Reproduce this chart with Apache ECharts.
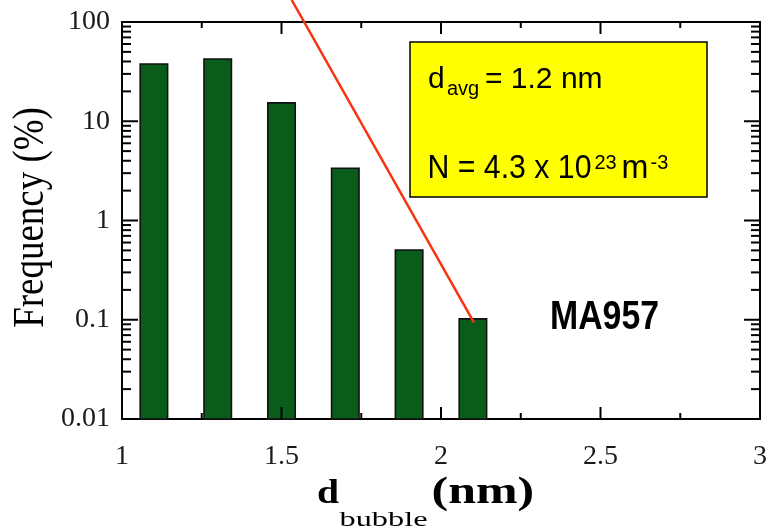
<!DOCTYPE html>
<html><head><meta charset="utf-8">
<script src="https://cdn.jsdelivr.net/npm/echarts@6/dist/echarts.min.js"></script>
<style>html,body{margin:0;padding:0;background:#fff}#c{width:770px;height:531px}</style>
</head><body><div id="c"></div>
<script>
// ---- data ----
const bubbleDiameters = [1.1, 1.3, 1.5, 1.7, 1.9, 2.1];      // nm (bar centres)
const frequencyPct    = [37.8, 42.4, 15.3, 3.36, 0.505, 0.102]; // %
const xTickLabels = ['1', '1.5', '2', '2.5', '3'];
const yTickLabels = ['0.01', '0.1', '1', '10', '100'];
const xMajorTicks = [1, 1.5, 2, 2.5, 3];
const xMinorTicks = [1.25, 1.75, 2.25, 2.75];
const yMajorTicks = [0.01, 0.1, 1, 10, 100];
const yDecades = [0.01, 0.1, 1, 10];
const yMinorMultipliers = [2, 3, 4, 5, 6, 7, 8, 9];

const X_MIN = 1, X_MAX = 3, Y_MIN = 0.01, Y_MAX = 100;
const BAR_W = 0.086; // bar width in nm
const SERIF = '"Liberation Serif", "Times New Roman", serif';
const SANS = '"Liberation Sans", Arial, sans-serif';

const yMinorTicks = [];
yDecades.forEach(d => yMinorMultipliers.forEach(m => yMinorTicks.push(+(d * m).toPrecision(3))));

const chart = echarts.init(document.getElementById('c'));

function ls() { return {color: '#000', width: 2}; }
function xAxisDef(pos, showLabel) {
  return {
    type: 'value', position: pos, min: X_MIN, max: X_MAX, interval: 0.5,
    axisLine: {show: true, lineStyle: ls()},
    axisTick: {show: false}, minorTick: {show: false},
    splitLine: {show: false},
    axisLabel: showLabel ? {
      show: true, margin: 24, color: '#1a1a1a', fontFamily: SERIF, fontSize: 28,
      formatter: v => xTickLabels[Math.round((v - 1) / 0.5)]
    } : {show: false}
  };
}
function yAxisDef(pos, showLabel) {
  return {
    type: 'log', position: pos, min: Y_MIN, max: Y_MAX,
    axisLine: {show: true, lineStyle: ls()},
    axisTick: {show: false}, minorTick: {show: false},
    splitLine: {show: false},
    axisLabel: showLabel ? {
      show: true, margin: 12, color: '#1a1a1a', fontFamily: SERIF, fontSize: 28,
      formatter: v => yTickLabels[Math.round(Math.log10(v)) + 2]
    } : {show: false}
  };
}

function txt(text, x, y, size, opts) {
  opts = opts || {};
  return {
    type: 'text', x, y, z: 100,
    scaleX: opts.sx || 1, scaleY: opts.sy || 1, rotation: opts.rot || 0,
    style: {
      text, x: 0, y: 0,
      fontSize: size, fontFamily: opts.family || SANS, fontWeight: opts.weight || 'normal',
      fill: opts.color || '#000',
      textAlign: opts.align || 'left', textVerticalAlign: 'middle', verticalAlign: 'middle'
    }
  };
}

const tickStyle = {stroke: '#000', lineWidth: 2};
// inward tick marks on bottom + top frame (value, length px)
const xTickData = xMajorTicks.map(v => [v, 12]).concat(xMinorTicks.map(v => [v, 6]));
// inward tick marks on left + right frame (length px, value)
const yTickData = yMajorTicks.map(v => [16, v]).concat(yMinorTicks.map(v => [9, v]));

chart.setOption({
  animation: false,
  grid: {left: 122, right: 9, top: 22, bottom: 112},
  xAxis: [xAxisDef('bottom', true), xAxisDef('top', false)],
  yAxis: [yAxisDef('left', true), yAxisDef('right', false)],
  series: [{
    type: 'custom', name: 'frequency',
    xAxisIndex: 0, yAxisIndex: 0, z: 2,
    data: bubbleDiameters.map((d, i) => [d, frequencyPct[i]]),
    renderItem: function (params, api) {
      const x = api.value(0), v = api.value(1);
      const top = api.coord([x, v]);
      const base = api.coord([x, Y_MIN]);
      const w = api.size([BAR_W, 0])[0];
      return {
        type: 'rect',
        shape: {x: top[0] - w / 2, y: top[1], width: w, height: base[1] - top[1]},
        style: {fill: '#0a5c1b', stroke: '#111', lineWidth: 1.6}
      };
    }
  }, {
    type: 'custom', name: 'xTicks', silent: true,
    xAxisIndex: 0, yAxisIndex: 0, z: 3,
    data: xTickData,
    renderItem: function (params, api) {
      const x = api.value(0), len = api.value(1);
      const b = api.coord([x, Y_MIN]);
      const t = api.coord([x, Y_MAX]);
      return {
        type: 'group',
        children: [
          {type: 'line', shape: {x1: b[0], y1: b[1], x2: b[0], y2: b[1] - len}, style: tickStyle},
          {type: 'line', shape: {x1: t[0], y1: t[1], x2: t[0], y2: t[1] + len}, style: tickStyle}
        ]
      };
    }
  }, {
    type: 'custom', name: 'yTicks', silent: true,
    xAxisIndex: 0, yAxisIndex: 0, z: 3,
    data: yTickData,
    renderItem: function (params, api) {
      const len = api.value(0), y = api.value(1);
      const l = api.coord([X_MIN, y]);
      const r = api.coord([X_MAX, y]);
      return {
        type: 'group',
        children: [
          {type: 'line', shape: {x1: l[0], y1: l[1], x2: l[0] + len, y2: l[1]}, style: tickStyle},
          {type: 'line', shape: {x1: r[0], y1: r[1], x2: r[0] - len, y2: r[1]}, style: tickStyle}
        ]
      };
    }
  }],
  graphic: [
    {type: 'line', z: 90, shape: {x1: 291.7, y1: 0, x2: 474, y2: 322.7},
     style: {stroke: '#f7340f', lineWidth: 2.5}},
    {type: 'rect', z: 95, shape: {x: 410, y: 42, width: 297, height: 155},
     style: {fill: '#ffff00', stroke: '#000', lineWidth: 1.5}},
    txt('d', 428, 79.6, 30),
    txt('avg', 447, 89.6, 20),
    txt('= 1.2 nm', 485, 79.6, 30),
    txt('N = 4.3 x 10', 427.5, 168.2, 34, {sx: 0.89}),
    txt('23', 594.5, 163.4, 20),
    txt('m', 621.5, 168.2, 34, {sx: 0.95}),
    txt('-3', 650.5, 163.4, 20),
    txt('MA957', 550, 317.7, 40.5, {sx: 0.835, weight: 'bold'}),
    txt('Frequency (%)', 31, 217.5, 44, {sx: 0.84, rot: Math.PI / 2, align: 'center', family: SERIF}),
    txt('d', 317, 494.9, 33, {sx: 1.2, weight: 'bold', family: SERIF}),
    txt('bubble', 339.5, 520.6, 22, {sx: 1.47, family: SERIF}),
    txt('(nm)', 431.5, 493.5, 37, {sx: 1.35, weight: 'bold', family: SERIF})
  ]
});
</script>
</body></html>
